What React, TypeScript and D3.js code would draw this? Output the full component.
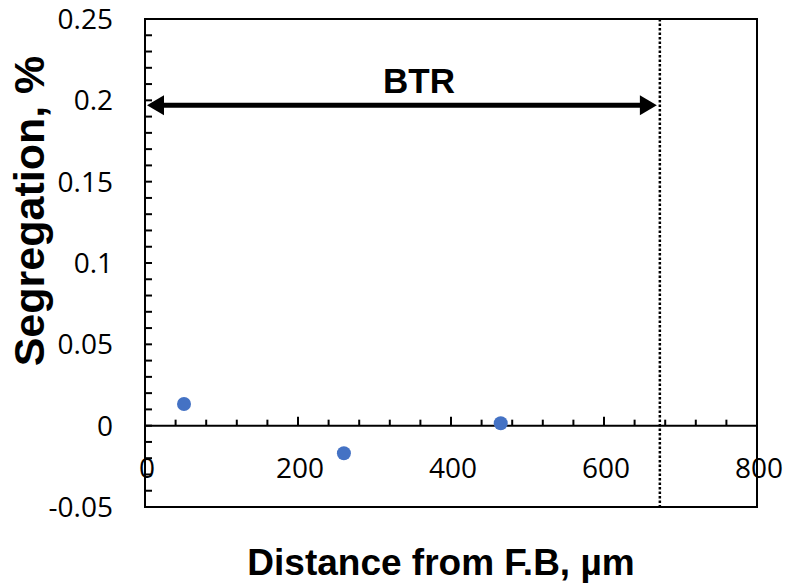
import React from "react";
import * as d3 from "d3";

const distances = [51, 260, 465];
const segregation = [0.0133, -0.017, 0.0015];
const xTickValues = [0, 200, 400, 600, 800];
const yTickValues = [-0.05, 0, 0.05, 0.1, 0.15, 0.2, 0.25];
const btrRange = [0, 673];
const btrLevel = 0.197;
const btrLabel = "BTR";
const xTitle = "Distance from F.B, µm";
const yTitle = "Segregation, %";

const W = 785;
const H = 588;
const L = 145, R = 757, T = 19, B = 507;

export default function App() {
  const x = d3.scaleLinear().domain([0, 800]).range([L, R]);
  const y = d3.scaleLinear().domain([-0.05, 0.25]).range([B, T]);
  const y0 = y(0);
  const xMinor = d3.range(0, 801, 40);
  const yMinor = d3.range(-0.05, 0.2501, 0.01);
  const ay = y(btrLevel);
  const ax1 = x(btrRange[0]) + 2;
  const ax2 = x(btrRange[1]) - 3;
  const headL = 17, headW = 10;
  const tickFont = "'Open Sans', 'DejaVu Sans', sans-serif";
  const boldFont = "'Liberation Sans', Arial, sans-serif";
  const fmt = (v: number) => (Math.abs(v) < 1e-9 ? "0" : String(+v.toFixed(2)));
  return (
    <svg width={W} height={H} style={{ position: "absolute", left: 0, top: 0, background: "#fff" }}>
      <rect x={0} y={0} width={W} height={H} fill="#fff" />
      {/* frame */}
      <rect x={L} y={T} width={R - L} height={B - T} fill="none" stroke="#000" strokeWidth={2} />
      {/* zero line */}
      <line x1={L} x2={R} y1={y0} y2={y0} stroke="#000" strokeWidth={2} />
      {/* x ticks on zero line */}
      {xMinor.map((v) => {
        const major = v % 200 === 0;
        return (
          <line key={"xt" + v} x1={x(v)} x2={x(v)} y1={y0} y2={y0 - (major ? 9 : 6)} stroke="#000" strokeWidth={2} />
        );
      })}
      {/* y ticks */}
      {yMinor.map((v, i) => (
        <line key={"yt" + i} x1={L} x2={L + 7} y1={y(v)} y2={y(v)} stroke="#000" strokeWidth={2} />
      ))}
      {/* y tick labels */}
      {yTickValues.map((v) => (
        <text key={"yl" + v} x={113} y={y(v)} dy="0.36em" textAnchor="end" fontFamily={tickFont} fontSize={28} fill="#000">
          {fmt(v)}
        </text>
      ))}
      {/* x tick labels */}
      {xTickValues.map((v) => (
        <text key={"xl" + v} x={x(v) + 2} y={478} textAnchor="middle" fontFamily={tickFont} fontSize={28} fill="#000">
          {fmt(v)}
        </text>
      ))}
      {/* dotted BTR limit */}
      <line x1={x(btrRange[1])} x2={x(btrRange[1])} y1={T} y2={B} stroke="#000" strokeWidth={2.5} strokeDasharray="2.5,2" />
      {/* double arrow */}
      <line x1={ax1 + headL - 2} x2={ax2 - headL + 2} y1={ay} y2={ay} stroke="#000" strokeWidth={5} />
      <path d={`M${ax1},${ay} L${ax1 + headL},${ay - headW} L${ax1 + headL},${ay + headW} Z`} fill="#000" />
      <path d={`M${ax2},${ay} L${ax2 - headL},${ay - headW} L${ax2 - headL},${ay + headW} Z`} fill="#000" />
      <text x={419} y={93} textAnchor="middle" fontFamily={boldFont} fontWeight="bold" fontSize={35} fill="#000">
        {btrLabel}
      </text>
      {/* points */}
      {distances.map((d, i) => (
        <circle key={"p" + i} cx={x(d)} cy={y(segregation[i])} r={7} fill="#4472C4" />
      ))}
      {/* titles */}
      <text x={441} y={575} textAnchor="middle" fontFamily={boldFont} fontWeight="bold" fontSize={37} fill="#000">
        {xTitle}
      </text>
      <text transform={`translate(44,211) rotate(-90)`} textAnchor="middle" fontFamily={boldFont} fontWeight="bold" fontSize={43} fill="#000">
        {yTitle}
      </text>
    </svg>
  );
}
